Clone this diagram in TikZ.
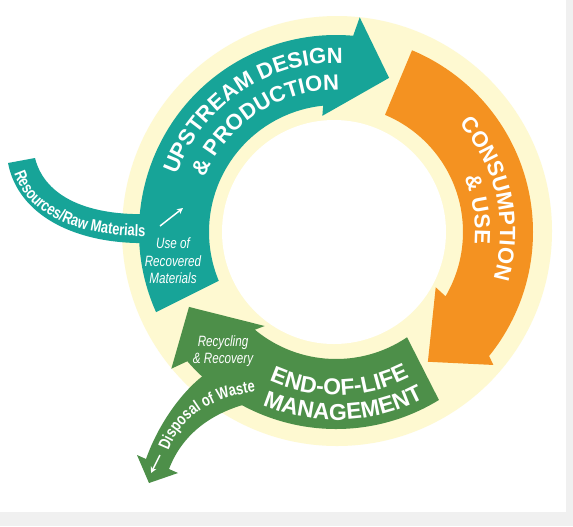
\documentclass[tikz,border=0pt]{standalone}
\usepackage{fontspec}
\usetikzlibrary{decorations.text,arrows.meta}

\newfontfamily\headfont{Liberation Sans}
\newfontfamily\narrowfont[FakeStretch=0.78]{Liberation Sans}

\definecolor{upteal}{RGB}{23,164,152}
\definecolor{useorange}{RGB}{244,146,33}
\definecolor{eolgreen}{RGB}{77,143,73}
\definecolor{ringyellow}{RGB}{254,249,209}
\definecolor{pagegray}{RGB}{240,240,240}

\newcommand{\headfmt}{\headfont\bfseries\fontsize{16.5}{18}\selectfont\color{white}}
\newcommand{\eolfmt}{\headfont\bfseries\fontsize{17.2}{19}\selectfont\color{white}}
\newcommand{\flowfmt}{\narrowfont\bfseries\fontsize{12.4}{14}\selectfont\color{white}}

\tikzset{every picture/.style={line width=0.75pt}}

\begin{document}
\begin{tikzpicture}[x=0.75pt,y=0.75pt,yscale=-1,xscale=1,
  curvedtext/.style={decorate,decoration={text along path,text align=center,text={#1}}},
  flowtext/.style={decorate,decoration={text along path,text align={left,left indent=#1}}},
  labeltext/.style={text=white,align=center,inner sep=0pt,font=\narrowfont\itshape\fontsize{11.2}{13.1}\selectfont},
  whitearrow/.style={draw=white,line width=1.1pt,-{Stealth[length=4.5pt,width=4.5pt]}}]
\useasboundingbox (0,0) rectangle (573,526);

%Shape: page border
\fill[pagegray] (0,0) rectangle (573,526);
\fill[white] (0,0) rectangle (566,512);

%Shape: ring
\fill[ringyellow] (337,231) circle[radius=215];
\fill[white] (334,232) circle[radius=112];

%Shape: incoming resources band
\fill[upteal] (35,158) .. controls (45,198) and (90,216) .. (150,214) -- (165,214) -- (165,243) -- (150,243) .. controls (75,245) and (18,215) .. (8,163) -- cycle;

\begin{scope}[shift={(336,232)}]
%Shape: upstream arrow
\fill[upteal] (-204:197) arc[start angle=-204,end angle=-85,radius=197] -- (-83.7:216) -- (-71:163) -- (-96.7:117) -- (-95.8:127) arc[start angle=-95.8,end angle=-202.6,radius=127] -- cycle;
%Shape: consumption arrow
\fill[useorange] (-67.3:197) arc[start angle=-67.3,end angle=39,radius=197] -- (40.2:206) -- (54.7:159) -- (29:114) -- (30.4:127) arc[start angle=30.4,end angle=-67.3,radius=127] -- cycle;
%Shape: end-of-life arrow
\fill[eolgreen] (58.5:197) arc[start angle=58.5,end angle=139,radius=197] -- (140.3:214) -- (153:165) -- (127.2:118) -- (129.7:127) arc[start angle=129.7,end angle=56,radius=127] -- cycle;
\end{scope}

%Shape: disposal branch
\fill[eolgreen] (208,372) .. controls (182,390) and (158,425) .. (146,459) -- (137,455) -- (149,483) -- (178,473) -- (169,469) .. controls (180,440) and (205,414) .. (250,403) -- (215,385) -- cycle;

% Curved headings
\begin{scope}[shift={(336,232)}]
\path[curvedtext={|\headfmt|UPSTREAM DESIGN}] (-184:169) arc[start angle=-184,end angle=-64,radius=169];
\path[curvedtext={|\headfmt|{\&} PRODUCTION}] (-183:142) arc[start angle=-183,end angle=-63,radius=142];
\path[curvedtext={|\headfmt|CONSUMPTION}] (-72.4:164) arc[start angle=-72.4,end angle=47.6,radius=164];
\path[curvedtext={|\headfmt|{\&} USE}] (-69:139) arc[start angle=-69,end angle=51,radius=139];
\path[curvedtext={|\eolfmt|END-OF-LIFE}] (148.7:163) arc[start angle=148.7,end angle=28.7,radius=163];
\path[curvedtext={|\eolfmt|MANAGEMENT}] (147.6:188) arc[start angle=147.6,end angle=27.6,radius=188];
\end{scope}

% Flow labels
\path[flowtext=7pt,decoration={text={|\flowfmt|Resources/Raw Materials}}] (12,164) .. controls (22,216) and (80,240) .. (165,236);
\path[flowtext=1pt,decoration={text={|\flowfmt|Disposal of Waste}}] (168,452) .. controls (180,418) and (210,396) .. (262,391);

% Text Node
\node[labeltext] (useof) at (173,261) {Use of\\Recovered\\Materials};
% Text Node
\node[labeltext] (recycling) at (223,351) {Recycling\\\& Recovery};

%Straight Lines
\coordinate (rawtail) at (160,226);
\coordinate (rawhead) at (183,208);
\draw[whitearrow] (rawtail) -- (rawhead);
%Straight Lines
\coordinate (wastetail) at (160,455);
\coordinate (wastehead) at (151,473);
\draw[whitearrow] (wastetail) -- (wastehead);

\end{tikzpicture}
\end{document}
